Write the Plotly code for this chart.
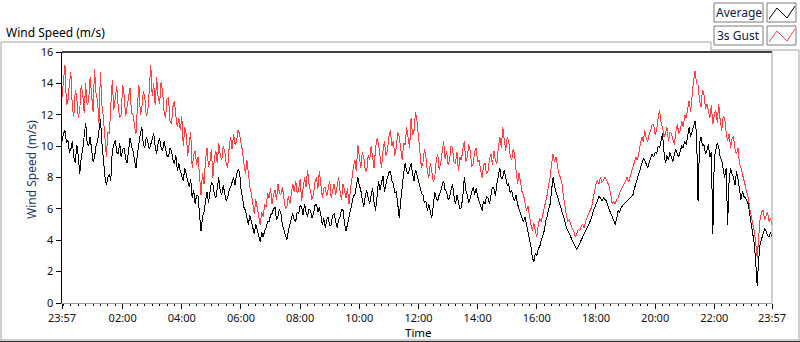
import pandas as pd
import plotly.graph_objects as go

# ---- data (3-minute samples from 23:57) ----
start_time = "2013-06-01 23:57"
sample_minutes = 3

gust_ms = [
    13.1, 14.2, 15.2, 12.6, 12.9, 14.0, 14.7, 12.4, 11.9, 13.6, 13.1, 11.8, 12.3, 13.9, 13.3, 12.1, 14.0, 12.6, 12.9, 14.4,  # 23:57
    13.5, 12.2, 14.9, 13.4, 12.9, 11.5, 14.7, 12.6, 11.8, 10.4, 9.3, 10.9, 10.8, 12.6, 14.2, 12.3, 12.9, 13.8, 12.5, 11.8,   # 00:57
    12.0, 13.9, 13.3, 11.9, 12.5, 13.2, 13.7, 12.1, 12.0, 11.3, 10.8, 12.6, 13.9, 12.0, 12.5, 13.5, 13.1, 11.9, 12.2, 13.6,  # 01:57
    15.2, 13.2, 14.0, 12.6, 14.4, 13.1, 12.7, 14.1, 13.5, 12.2, 11.8, 13.0, 13.1, 11.6, 11.4, 12.5, 12.9, 11.9, 11.2, 11.8,  # 02:57
    11.0, 11.9, 10.0, 11.2, 10.8, 9.4, 10.3, 10.9, 8.6, 9.4, 9.7, 8.8, 9.3, 8.1, 6.9, 8.3, 7.6, 9.1, 9.9, 8.7,               # 03:57
    9.0, 9.8, 8.0, 9.2, 9.7, 8.9, 10.2, 9.4, 9.1, 10.0, 9.7, 8.9, 8.6, 9.9, 10.6, 9.8, 10.8, 10.1, 10.3, 11.0,              # 04:57
    10.8, 10.2, 9.7, 8.9, 8.2, 9.1, 8.0, 7.4, 7.0, 6.4, 5.7, 6.6, 6.1, 5.6, 5.0, 5.8, 5.5, 6.3, 6.1, 7.0,                   # 05:57
    6.7, 7.3, 6.3, 6.9, 7.2, 6.6, 7.6, 7.0, 6.9, 7.4, 6.5, 6.0, 6.1, 6.8, 6.3, 7.0, 7.6, 7.1, 7.8, 7.0,                     # 06:57
    7.2, 7.9, 6.5, 7.3, 8.0, 7.4, 8.5, 7.6, 7.2, 6.6, 6.9, 7.7, 8.0, 7.3, 8.4, 7.5, 6.7, 7.3, 7.4, 6.8,                     # 07:57
    7.2, 7.8, 6.7, 7.1, 7.6, 6.9, 7.4, 8.0, 7.1, 6.6, 7.6, 7.0, 6.7, 7.3, 6.3, 7.2, 8.0, 8.7, 9.1, 8.4,                     # 08:57
    10.1, 9.2, 8.6, 9.6, 9.3, 8.5, 8.4, 9.4, 9.1, 10.0, 9.3, 8.6, 9.9, 10.5, 10.1, 9.2, 8.6, 9.7, 10.3, 9.4,                # 09:57
    9.7, 10.6, 11.0, 10.0, 10.3, 9.4, 9.9, 10.9, 10.6, 9.8, 9.1, 10.2, 10.1, 11.2, 10.6, 9.9, 11.8, 10.7, 11.0, 12.2,       # 10:57
    11.6, 10.4, 9.7, 8.6, 8.9, 9.8, 9.3, 8.4, 8.0, 8.9, 8.4, 7.7, 8.0, 9.1, 9.5, 8.5, 8.9, 9.8, 10.3, 9.2,                  # 11:57
    9.7, 8.8, 9.1, 10.0, 9.9, 9.0, 8.9, 9.6, 8.4, 9.3, 9.1, 9.8, 10.3, 9.0, 9.3, 10.1, 9.7, 8.7, 8.9, 9.6,                  # 12:57
    9.9, 9.0, 9.1, 8.5, 8.0, 8.8, 8.9, 8.2, 8.4, 9.2, 9.5, 8.8, 9.7, 9.1, 8.9, 9.9, 10.6, 9.9, 11.2, 10.4,                  # 13:57
    9.7, 10.6, 10.3, 9.4, 9.1, 9.8, 9.5, 8.4, 7.6, 8.3, 7.6, 7.1, 6.9, 6.3, 5.9, 6.2, 5.5, 5.0, 4.6, 5.1,                   # 14:57
    4.6, 4.2, 5.0, 5.4, 5.2, 5.6, 5.9, 6.5, 6.9, 7.5, 8.0, 8.9, 9.5, 9.0, 9.3, 8.7, 8.2, 8.0, 7.6, 6.8,                     # 15:57
    6.1, 5.6, 5.2, 5.3, 5.0, 4.7, 4.6, 4.2, 4.4, 4.7, 4.6, 4.9, 5.0, 4.8, 5.2, 5.5, 5.7, 5.9, 6.1, 6.6,                     # 16:57
    7.2, 7.6, 7.8, 7.6, 8.0, 7.7, 7.8, 8.0, 7.9, 7.6, 7.4, 6.9, 6.3, 6.5, 6.3, 6.6, 6.7, 7.0, 7.2, 7.5,                     # 17:57
    7.6, 7.9, 8.0, 7.7, 8.0, 8.4, 8.6, 9.0, 9.3, 9.1, 9.7, 10.2, 10.6, 10.3, 11.0, 10.5, 10.3, 10.8, 11.0, 11.4,            # 18:57
    11.4, 10.7, 11.0, 11.8, 12.3, 11.5, 11.2, 10.6, 10.8, 11.2, 10.3, 10.9, 10.8, 10.4, 10.1, 10.9, 11.4, 10.8, 11.0, 11.6, # 19:57
    11.2, 12.0, 11.8, 12.4, 12.9, 12.2, 13.3, 14.2, 14.8, 14.0, 13.9, 12.9, 12.5, 13.6, 13.3, 12.4, 12.7, 12.1, 11.8, 12.6, # 20:57
    11.4, 12.0, 12.3, 11.5, 12.7, 11.6, 11.0, 11.9, 11.8, 10.9, 10.3, 10.8, 9.9, 10.5, 10.6, 9.8, 9.5, 9.9, 8.9, 8.6,       # 21:57
    8.2, 7.8, 7.6, 7.0, 6.7, 6.0, 5.5, 5.0, 4.6, 3.8, 2.9, 4.2, 5.4, 5.8, 5.9, 5.3, 5.5, 5.8, 5.2, 5.4,                     # 22:57
    5.0,
]

average_ms = [
    10.3, 10.8, 11.0, 10.2, 10.4, 9.6, 9.8, 10.3, 9.3, 8.9, 10.1, 9.4, 8.2, 9.3, 9.8, 10.6, 11.5, 10.2, 10.0, 10.6,   # 23:57
    9.7, 9.0, 9.3, 10.0, 10.3, 11.0, 11.7, 10.2, 9.0, 8.1, 7.5, 8.0, 8.2, 7.8, 9.7, 10.1, 10.4, 9.6, 9.5, 10.2,       # 00:57
    9.3, 9.8, 9.9, 9.2, 8.9, 9.7, 10.5, 10.0, 9.7, 9.1, 8.6, 9.5, 10.3, 10.8, 11.2, 10.1, 9.9, 10.6, 10.3, 9.8,       # 01:57
    10.1, 10.5, 10.8, 10.0, 9.5, 10.2, 10.5, 9.9, 9.7, 10.3, 9.9, 9.4, 9.3, 9.9, 9.7, 9.1, 8.9, 9.4, 8.4, 8.9,        # 02:57
    8.4, 8.0, 7.8, 8.6, 8.2, 7.6, 7.4, 7.9, 6.7, 7.2, 6.3, 6.9, 6.8, 5.6, 4.6, 5.5, 5.8, 6.5, 7.1, 6.4,               # 03:57
    7.1, 7.7, 7.6, 6.9, 6.7, 7.4, 8.0, 7.1, 6.9, 7.5, 7.0, 6.5, 6.7, 7.2, 7.4, 7.8, 8.0, 7.5, 8.2, 8.5,               # 04:57
    8.4, 7.3, 6.5, 6.1, 5.9, 5.4, 5.0, 5.6, 5.2, 4.7, 4.4, 5.0, 4.6, 4.2, 3.9, 4.5, 4.2, 4.6, 4.8, 5.2,               # 05:57
    5.2, 5.6, 5.7, 6.0, 6.1, 5.3, 5.5, 6.0, 5.7, 5.0, 4.6, 4.3, 4.0, 4.6, 5.0, 5.5, 5.7, 5.3, 5.2, 5.8,               # 06:57
    5.7, 6.2, 6.1, 5.6, 6.3, 5.8, 5.5, 6.0, 5.9, 5.4, 5.7, 6.2, 6.3, 5.8, 6.1, 5.6, 5.0, 5.4, 4.8, 5.3,               # 07:57
    5.5, 4.9, 5.0, 5.6, 5.7, 5.2, 4.8, 5.3, 5.5, 6.0, 5.9, 5.1, 4.6, 5.0, 5.5, 6.0, 6.3, 6.8, 6.9, 7.5,               # 08:57
    8.0, 7.5, 7.2, 6.6, 6.1, 6.8, 7.2, 6.7, 6.3, 6.9, 7.3, 6.4, 5.9, 6.8, 7.8, 7.2, 7.6, 8.1, 7.1, 7.6,               # 09:57
    8.0, 8.3, 8.4, 7.8, 7.6, 7.0, 7.1, 6.3, 5.4, 6.5, 7.6, 8.3, 8.9, 8.4, 8.2, 8.6, 8.9, 8.2, 7.8, 8.5,               # 10:57
    8.2, 7.8, 7.4, 7.0, 6.9, 6.4, 6.5, 5.9, 6.3, 5.8, 5.4, 6.2, 7.1, 6.7, 6.5, 6.9, 7.1, 7.5, 7.8, 7.2,               # 11:57
    7.1, 6.6, 6.7, 7.2, 7.6, 6.8, 6.3, 6.9, 6.5, 6.0, 6.1, 6.8, 8.0, 7.2, 6.9, 6.4, 6.7, 7.1, 7.4, 6.9,               # 12:57
    7.3, 6.8, 6.5, 6.1, 5.9, 6.5, 6.3, 6.8, 6.7, 6.3, 6.9, 7.4, 7.3, 6.8, 7.6, 8.1, 8.6, 7.9, 8.0, 8.5,               # 13:57
    8.0, 7.5, 7.6, 7.0, 7.2, 6.7, 6.5, 6.9, 6.3, 5.9, 5.7, 5.4, 5.2, 5.5, 5.0, 4.6, 4.2, 3.6, 2.9, 2.6,               # 14:57
    3.2, 3.0, 3.5, 3.6, 4.0, 4.3, 4.6, 5.2, 5.5, 6.0, 6.3, 7.2, 8.0, 7.4, 7.1, 6.8, 6.5, 6.2, 5.9, 5.5,               # 15:57
    5.2, 4.8, 4.6, 4.4, 4.2, 3.9, 3.8, 3.5, 3.4, 3.6, 3.8, 4.0, 4.2, 4.4, 4.6, 4.8, 5.0, 5.2, 5.4, 5.8,               # 16:57
    6.1, 6.3, 6.5, 6.8, 6.7, 6.5, 6.7, 6.6, 6.5, 6.2, 5.9, 5.7, 5.5, 5.2, 5.0, 5.4, 5.9, 5.8, 6.1, 6.2,               # 17:57
    6.3, 6.4, 6.5, 6.6, 6.7, 6.8, 6.9, 7.3, 7.6, 7.9, 8.2, 8.5, 8.9, 9.2, 9.1, 8.8, 8.6, 9.0, 9.3, 9.5,               # 18:57
    9.3, 9.6, 9.5, 10.0, 9.9, 10.5, 10.8, 9.6, 8.9, 9.4, 9.1, 9.6, 9.3, 9.0, 9.5, 9.8, 9.5, 9.3, 9.7, 10.0,           # 19:57
    9.9, 10.3, 10.1, 10.7, 11.2, 10.6, 11.0, 11.4, 11.6, 10.8, 6.5, 10.2, 10.6, 10.0, 10.1, 9.5, 9.7, 10.1, 9.3, 9.6, # 20:57
    4.4, 9.3, 9.7, 10.2, 9.9, 9.3, 9.1, 8.5, 8.0, 8.6, 5.0, 7.8, 8.6, 8.2, 8.0, 7.5, 8.4, 7.9, 7.2, 6.6,              # 21:57
    7.1, 6.8, 6.7, 6.5, 6.3, 5.6, 5.0, 4.5, 3.8, 2.6, 1.1, 2.8, 3.8, 4.1, 4.4, 4.7, 4.6, 4.3, 4.2, 4.5,               # 22:57
    4.2,
]

x_tick_labels = ["23:57", "02:00", "04:00", "06:00", "08:00", "10:00", "12:00",
                 "14:00", "16:00", "18:00", "20:00", "22:00", "23:57"]
y_tick_values = [0, 2, 4, 6, 8, 10, 12, 14, 16]

times = pd.date_range(start_time, periods=len(gust_ms), freq=f"{sample_minutes}min")
t0, t1 = times[0], times[-1]
day = pd.Timestamp("2013-06-02")
x_tick_values = [t0] + [day + pd.Timedelta(hours=h) for h in range(2, 23, 2)] + [t1]
minor_vals = list(pd.date_range(day, t1, freq="15min"))

# ---- geometry helpers (pixel -> paper) ----
W, H = 800, 342
L, R, T, B = 62, 772, 52, 303
def px(x):
    return (x - L) / (R - L)
def py(y):
    return (B - y) / (B - T)

FONT = "Noto Sans"
fig = go.Figure()
fig.add_trace(go.Scatter(x=times, y=average_ms, mode="lines", name="Average",
                         line=dict(color="#000000", width=1)))
fig.add_trace(go.Scatter(x=times, y=gust_ms, mode="lines", name="3s Gust",
                         line=dict(color="#ff4040", width=1)))

shapes = []
def seg(x0, y0, x1, y1, color, w=1):
    shapes.append(dict(type="line", xref="paper", yref="paper",
                       x0=px(x0), y0=py(y0), x1=px(x1), y1=py(y1),
                       line=dict(color=color, width=w)))
# outer panel frame
seg(1, 42, 711, 42, "#a0a0a0")
seg(711, 42, 711, 50, "#a0a0a0")
seg(711, 50, 799, 50, "#a0a0a0")
seg(799, 50, 799, 341, "#a0a0a0")
seg(1, 42, 1, 341, "#a0a0a0")
seg(1, 340, 799, 340, "#a0a0a0")
seg(0, 341.5, 800, 341.5, "#303030")
# plot frame top / right
seg(L, T, R, T, "#000000", 1.5)
seg(R, T, R, B, "#a0a0a0", 1)

# legend boxes
def rect(x0, y0, x1, y1):
    shapes.append(dict(type="rect", xref="paper", yref="paper",
                       x0=px(x0), y0=py(y0), x1=px(x1), y1=py(y1),
                       line=dict(color="#7a7a7a", width=1), fillcolor="white"))
def zig(pts, color):
    d = "M " + " L ".join(f"{px(a)},{py(b)}" for a, b in pts)
    shapes.append(dict(type="path", xref="paper", yref="paper", path=d,
                       line=dict(color=color, width=1)))
rect(714, 3, 763, 22)
rect(767, 3, 796, 22)
zig([(769, 19), (777, 8), (787, 18), (795, 6)], "#000000")
rect(714, 26, 763, 45)
rect(767, 26, 796, 45)
zig([(769, 42), (777, 31), (787, 41), (795, 29)], "#ff4040")

annotations = [
    dict(text="Wind Speed (m/s)", x=px(4), y=py(32), xanchor="left", yanchor="middle",
         font=dict(family=FONT, size=12, color="#000000")),
    dict(text="Wind Speed (m/s)", x=px(31), y=py(170), textangle=-90,
         xanchor="center", yanchor="middle",
         font=dict(family=FONT, size=12, color="#1c3a66")),
    dict(text="Time", x=px(418), y=py(332), xanchor="center", yanchor="middle",
         font=dict(family=FONT, size=11.5, color="#000000")),
    dict(text="Average", x=px(738.5), y=py(12.5), xanchor="center", yanchor="middle",
         font=dict(family=FONT, size=12, color="#0c1a40")),
    dict(text="3s Gust", x=px(738.5), y=py(35.5), xanchor="center", yanchor="middle",
         font=dict(family=FONT, size=12, color="#0c1a40")),
]
for a in annotations:
    a.update(xref="paper", yref="paper", showarrow=False)

fig.update_layout(
    width=W, height=H,
    margin=dict(l=L, r=W - R, t=T, b=H - B),
    paper_bgcolor="white", plot_bgcolor="white",
    showlegend=False, hovermode=False,
    shapes=shapes, annotations=annotations,
    font=dict(family=FONT, size=11, color="#101010"),
)
fig.update_xaxes(
    range=[t0, t1], tickmode="array", tickvals=x_tick_values, ticktext=x_tick_labels,
    ticks="outside", ticklen=5, tickcolor="#000000", tickwidth=1,
    showline=True, linecolor="#a0a0a0", linewidth=1,
    showgrid=False, zeroline=False,
    tickfont=dict(family=FONT, size=11, color="#101010"),
    minor=dict(tickmode="array", tickvals=minor_vals, ticks="outside",
               ticklen=2, tickcolor="#000000", tickwidth=1, showgrid=False),
)
fig.update_yaxes(
    range=[0, 16], tickmode="array", tickvals=y_tick_values,
    ticks="outside", ticklen=5, tickcolor="#000000", tickwidth=1,
    showline=True, linecolor="#000000", linewidth=1.5,
    showgrid=False, zeroline=False,
    tickfont=dict(family=FONT, size=11, color="#101010"),
)

post = (
    "document.body.style.margin='0px';"
    "document.body.style.overflow='hidden';"
    "document.querySelectorAll('.scatterlayer .js-line').forEach(function(p){"
    "p.style.shapeRendering='crispEdges';});"
)
fig.write_html("out.html", config={"displayModeBar": False, "staticPlot": True},
               post_script=post)
